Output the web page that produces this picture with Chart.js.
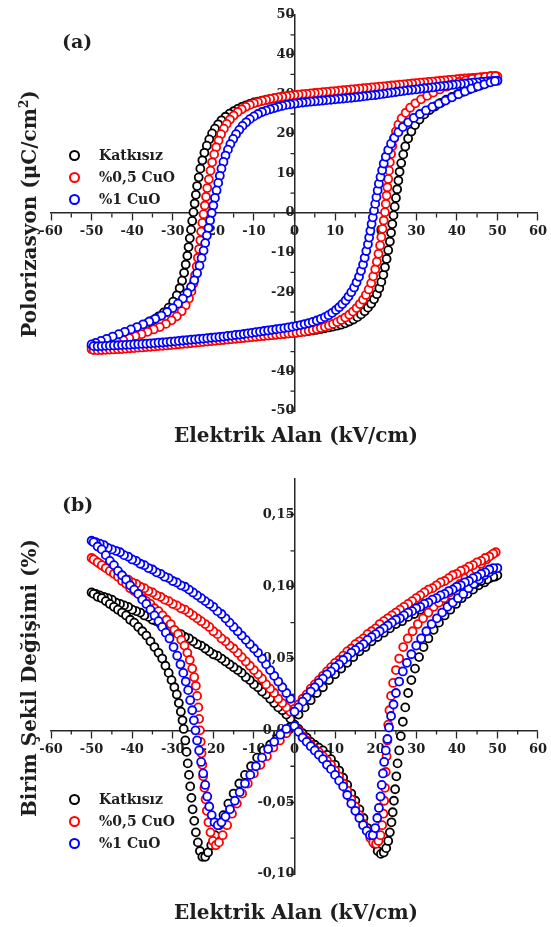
<!DOCTYPE html>
<html>
<head>
<meta charset="utf-8">
<script src="https://cdn.jsdelivr.net/npm/chart.js@4.4.1/dist/chart.umd.min.js"></script>
<style>
  body { margin: 0; background: #fff; }
  #page { position: relative; width: 551px; height: 927px; overflow: hidden; font-family: 'DejaVu Serif', serif; font-weight: bold; color: #1e1e1e; }
  .wrap { position: absolute; left: 0; width: 551px; }
  .ttl { position: absolute; white-space: nowrap; font-size: 20px; transform: translate(-50%, -50%); }
  .ytl { position: absolute; white-space: nowrap; font-size: 20px; transform: translate(-50%, -50%) rotate(-90deg); }
  .tag { position: absolute; font-size: 19px; }
  .leg { position: absolute; left: 69px; font-size: 14px; height: 20px; line-height: 20px; white-space: nowrap; }
  .leg span { display: inline-block; width: 7px; height: 7px; border: 2.2px solid; border-radius: 50%; vertical-align: middle; margin-right: 19px; position: relative; top: -1px; }
  sup { font-size: 12px; line-height: 0; }
</style>
</head>
<body>
<div id="page">
  <div class="wrap" style="top:0;height:463px"><canvas id="chartA" width="551" height="463"></canvas></div>
  <div class="wrap" style="top:463px;height:464px"><canvas id="chartB" width="551" height="464"></canvas></div>

  <div class="tag" style="left:62px;top:30px">(a)</div>
  <div class="ytl" style="left:29px;top:214px">Polorizasyon (μC/cm<sup>2</sup>)</div>
  <div class="ttl" style="left:296px;top:435px">Elektrik Alan (kV/cm)</div>
  <div class="leg" style="top:145px"><span style="border-color:#000"></span>Katkısız</div>
  <div class="leg" style="top:167px"><span style="border-color:#f00"></span>%0,5 CuO</div>
  <div class="leg" style="top:189px"><span style="border-color:#00f"></span>%1 CuO</div>

  <div class="tag" style="left:62px;top:493px">(b)</div>
  <div class="ytl" style="left:29px;top:678px">Birim Şekil Değişimi (%)</div>
  <div class="ttl" style="left:296px;top:912px">Elektrik Alan (kV/cm)</div>
  <div class="leg" style="top:789px"><span style="border-color:#000"></span>Katkısız</div>
  <div class="leg" style="top:811px"><span style="border-color:#f00"></span>%0,5 CuO</div>
  <div class="leg" style="top:833px"><span style="border-color:#00f"></span>%1 CuO</div>
</div>

<script>
const seriesNames = ['Katkısız', '%0,5 CuO', '%1 CuO'];

// (a) P-E loops: [E (kV/cm), P (µC/cm²)]
const peKatkisiz = [
  [50,33.6],[49,33.55],[48,33.5],[47,33.4],[46,33.35],[45,33.3],[44,33.2],[43,33.1],[42,33.05],[41,33],[40,32.9],[39,32.8],
  [38,32.7],[37,32.65],[36,32.6],[35,32.5],[34,32.4],[33,32.35],[32,32.3],[31,32.2],[30,32.1],[29,32],[28,31.9],[27,31.8],
  [26,31.7],[25,31.6],[24,31.5],[23,31.4],[22,31.3],[21,31.2],[20,31.1],[19,31],[18,30.9],[17,30.8],[16,30.7],[15,30.65],
  [14,30.6],[13,30.5],[12,30.4],[11,30.35],[10,30.3],[9,30.2],[8,30.1],[7,30.05],[6,30],[5,29.95],[4,29.9],[3,29.85],
  [2,29.8],[1,29.7],[0,29.6],[-1,29.5],[-2,29.4],[-3,29.25],[-4,29.1],[-5,28.95],[-6,28.8],[-7,28.6],[-8,28.4],[-9,28.15],
  [-10,27.9],[-11,27.55],[-12,27.2],[-13,26.8],[-14,26.3],[-15,25.7],[-16,25.1],[-17,24.3],[-18,23.4],[-18.8,22.4],
  [-19.6,21.3],[-20.3,20.1],[-21,18.6],[-21.6,17],[-22.2,15.2],[-22.7,13.3],[-23.2,11.2],[-23.6,9],[-24,6.8],[-24.3,4.6],
  [-24.6,2.4],[-24.9,0.2],[-25.2,-2],[-25.5,-4.2],[-25.8,-6.4],[-26.1,-8.6],[-26.4,-10.8],[-26.8,-13],[-27.2,-15.1],
  [-27.7,-17.1],[-28.3,-19],[-29,-20.8],[-29.9,-22.4],[-31,-23.9],[-32.2,-25.1],[-33.5,-26.1],[-34.9,-27.1],[-36.3,-27.9],
  [-37.8,-28.8],[-39.3,-29.5],[-40.8,-30.3],[-42.3,-31],[-43.8,-31.6],[-45.3,-32.2],[-46.8,-32.7],[-48.2,-33.2],
  [-49.3,-33.5],[-50,-33.7],
  [-49.5,-33.95],[-48.5,-34],[-47.5,-34],[-46.5,-33.95],[-45.5,-33.9],[-44.5,-33.85],[-43.5,-33.8],[-42.5,-33.75],
  [-41.5,-33.7],[-40.5,-33.65],[-39.5,-33.6],[-38.5,-33.55],[-37.5,-33.5],[-36.5,-33.45],[-35.5,-33.4],[-34.5,-33.35],
  [-33.5,-33.3],[-32.5,-33.25],[-31.5,-33.2],[-30.5,-33.1],[-29.5,-33.05],[-28.5,-33],[-27.5,-32.9],[-26.5,-32.8],
  [-25.5,-32.75],[-24.5,-32.65],[-23.5,-32.55],[-22.5,-32.45],[-21.5,-32.35],[-20.5,-32.25],[-19.5,-32.15],[-18.5,-32.05],
  [-17.5,-31.95],[-16.5,-31.85],[-15.5,-31.75],[-14.5,-31.65],[-13.5,-31.55],[-12.5,-31.45],[-11.5,-31.35],[-10.5,-31.25],
  [-9.5,-31.15],[-8.5,-31.05],[-7.5,-30.95],[-6.5,-30.85],[-5.5,-30.75],[-4.5,-30.65],[-3.5,-30.55],[-2.5,-30.45],
  [-1.5,-30.35],[-0.5,-30.25],[0.5,-30.15],[1.5,-30.05],[2.5,-29.95],[3.5,-29.8],[4.5,-29.65],[5.5,-29.5],[6.5,-29.3],
  [7.5,-29.1],[8.5,-28.9],[9.5,-28.7],[10.5,-28.45],[11.5,-28.2],[12.5,-27.85],[13.5,-27.4],[14.5,-26.9],[15.5,-26.3],
  [16.4,-25.6],[17.3,-24.8],[18.1,-23.9],[18.9,-22.9],[19.6,-21.8],[20.3,-20.5],[20.9,-19],[21.4,-17.4],[21.9,-15.6],
  [22.3,-13.7],[22.7,-11.6],[23.1,-9.4],[23.5,-7.2],[23.8,-5],[24.1,-2.8],[24.4,-0.6],[24.7,1.6],[25,3.8],[25.3,6],
  [25.6,8.2],[25.9,10.4],[26.3,12.6],[26.8,14.8],[27.3,16.8],[28,18.8],[28.8,20.6],[29.7,22.2],[30.8,23.6],[32,24.9],
  [33.3,26],[34.6,26.9],[36,27.8],[37.4,28.6],[38.8,29.3],[40.2,30],[41.6,30.6],[43,31.2],[44.4,31.7],[45.8,32.2],
  [47.1,32.7],[48.3,33.1],[49.3,33.4]
];
const peCuO05 = [
  [50,34.5],[49,34.5],[48,34.45],[47,34.4],[46,34.3],[45,34.2],[44,34.1],[43,34.05],[42,34],[41,33.9],[40,33.8],[39,33.7],
  [38,33.6],[37,33.5],[36,33.4],[35,33.3],[34,33.2],[33,33.1],[32,33],[31,32.9],[30,32.8],[29,32.7],[28,32.6],[27,32.5],
  [26,32.4],[25,32.3],[24,32.2],[23,32.1],[22,32],[21,31.9],[20,31.8],[19,31.7],[18,31.6],[17,31.5],[16,31.4],[15,31.3],
  [14,31.2],[13,31.1],[12,31],[11,30.9],[10,30.8],[9,30.7],[8,30.6],[7,30.5],[6,30.4],[5,30.3],[4,30.2],[3,30.1],[2,30],
  [1,29.9],[0,29.8],[-1,29.65],[-2,29.5],[-3,29.35],[-4,29.2],[-5,29],[-6,28.8],[-7,28.55],[-8,28.3],[-9,28],[-10,27.7],
  [-11,27.3],[-12,26.8],[-13,26.2],[-14,25.5],[-15,24.6],[-15.9,23.6],[-16.7,22.5],[-17.4,21.3],[-18.1,19.9],[-18.7,18.3],
  [-19.3,16.6],[-19.8,14.8],[-20.3,12.8],[-20.7,10.7],[-21.1,8.5],[-21.5,6.3],[-21.8,4.1],[-22.1,1.9],[-22.4,-0.3],
  [-22.7,-2.5],[-23,-4.7],[-23.2,-6.9],[-23.5,-9.1],[-23.8,-11.3],[-24.1,-13.5],[-24.5,-15.7],[-24.9,-17.8],[-25.4,-19.8],
  [-26,-21.6],[-26.8,-23.3],[-27.8,-24.8],[-29,-26.1],[-30.3,-27.1],[-31.7,-28],[-33.2,-28.8],[-34.7,-29.4],[-36.2,-30],
  [-37.7,-30.6],[-39.2,-31.1],[-40.7,-31.6],[-42.2,-32.1],[-43.7,-32.6],[-45.2,-33.1],[-46.7,-33.5],[-48.1,-33.9],
  [-49.2,-34.2],[-50,-34.4],
  [-49.5,-34.6],[-48.5,-34.65],[-47.5,-34.6],[-46.5,-34.55],[-45.5,-34.5],[-44.5,-34.45],[-43.5,-34.4],[-42.5,-34.35],
  [-41.5,-34.25],[-40.5,-34.15],[-39.5,-34.1],[-38.5,-34],[-37.5,-33.95],[-36.5,-33.85],[-35.5,-33.8],[-34.5,-33.7],
  [-33.5,-33.6],[-32.5,-33.55],[-31.5,-33.45],[-30.5,-33.35],[-29.5,-33.25],[-28.5,-33.15],[-27.5,-33.05],[-26.5,-32.95],
  [-25.5,-32.85],[-24.5,-32.75],[-23.5,-32.65],[-22.5,-32.55],[-21.5,-32.45],[-20.5,-32.35],[-19.5,-32.25],[-18.5,-32.15],
  [-17.5,-32.05],[-16.5,-31.95],[-15.5,-31.85],[-14.5,-31.75],[-13.5,-31.65],[-12.5,-31.55],[-11.5,-31.45],[-10.5,-31.35],
  [-9.5,-31.25],[-8.5,-31.15],[-7.5,-31.05],[-6.5,-30.95],[-5.5,-30.85],[-4.5,-30.75],[-3.5,-30.65],[-2.5,-30.55],
  [-1.5,-30.45],[-0.5,-30.35],[0.5,-30.25],[1.5,-30.1],[2.5,-29.95],[3.5,-29.75],[4.5,-29.55],[5.5,-29.3],[6.5,-29.05],
  [7.5,-28.75],[8.5,-28.4],[9.5,-28],[10.5,-27.55],[11.5,-27],[12.5,-26.4],[13.5,-25.7],[14.4,-24.9],[15.3,-24],[16.1,-23],
  [16.9,-21.9],[17.6,-20.7],[18.3,-19.3],[18.9,-17.7],[19.4,-16],[19.9,-14.2],[20.3,-12.3],[20.7,-10.3],[21.1,-8.2],
  [21.4,-6.1],[21.7,-4],[22,-1.9],[22.3,0.2],[22.5,2.3],[22.7,4.4],[22.9,6.5],[23.1,8.6],[23.3,10.7],[23.5,12.8],
  [23.8,14.9],[24.1,16.9],[24.5,18.8],[25,20.6],[25.6,22.3],[26.4,23.9],[27.4,25.3],[28.5,26.6],[29.8,27.7],[31.2,28.7],
  [32.7,29.6],[34.2,30.4],[35.8,31.2],[37.4,31.9],[39,32.5],[40.6,33.1],[42.2,33.5],[43.8,33.9],[45.4,34.2],[47,34.4],
  [48.4,34.6],[49.5,34.6]
];
const peCuO1 = [
  [50,33.4],[49,33.35],[48,33.3],[47,33.2],[46,33.1],[45,33],[44,32.9],[43,32.8],[42,32.7],[41,32.6],[40,32.5],[39,32.35],
  [38,32.2],[37,32.1],[36,32],[35,31.85],[34,31.7],[33,31.6],[32,31.5],[31,31.35],[30,31.2],[29,31.1],[28,31],[27,30.85],
  [26,30.7],[25,30.55],[24,30.4],[23,30.25],[22,30.1],[21,29.95],[20,29.8],[19,29.7],[18,29.6],[17,29.45],[16,29.3],
  [15,29.2],[14,29.1],[13,29],[12,28.9],[11,28.8],[10,28.7],[9,28.6],[8,28.5],[7,28.4],[6,28.3],[5,28.2],[4,28.1],[3,28],
  [2,27.9],[1,27.75],[0,27.6],[-1,27.45],[-2,27.3],[-3,27.05],[-4,26.8],[-5,26.5],[-6,26.2],[-7,25.85],[-8,25.5],[-9,25],
  [-10,24.4],[-11,23.7],[-11.9,22.9],[-12.8,22],[-13.6,21],[-14.4,19.9],[-15.1,18.7],[-15.8,17.4],[-16.4,16],[-17,14.5],
  [-17.5,12.9],[-18,11.2],[-18.4,9.4],[-18.8,7.6],[-19.2,5.7],[-19.6,3.8],[-20,1.9],[-20.4,0],[-20.8,-1.9],[-21.2,-3.8],
  [-21.6,-5.7],[-22,-7.6],[-22.4,-9.5],[-22.9,-11.4],[-23.4,-13.3],[-24,-15.2],[-24.7,-17],[-25.5,-18.7],[-26.4,-20.2],
  [-27.5,-21.6],[-28.7,-22.9],[-30,-24],[-31.4,-25],[-32.8,-25.9],[-34.3,-26.7],[-35.8,-27.4],[-37.3,-28.1],[-38.8,-28.8],
  [-40.3,-29.4],[-41.8,-30],[-43.3,-30.6],[-44.8,-31.2],[-46.3,-31.8],[-47.7,-32.3],[-49,-32.8],[-50,-33.2],
  [-49.5,-33.6],[-48.5,-33.65],[-47.5,-33.6],[-46.5,-33.55],[-45.5,-33.5],[-44.5,-33.45],[-43.5,-33.4],[-42.5,-33.35],
  [-41.5,-33.3],[-40.5,-33.25],[-39.5,-33.15],[-38.5,-33.1],[-37.5,-33.05],[-36.5,-33],[-35.5,-32.9],[-34.5,-32.85],
  [-33.5,-32.75],[-32.5,-32.7],[-31.5,-32.6],[-30.5,-32.5],[-29.5,-32.4],[-28.5,-32.3],[-27.5,-32.2],[-26.5,-32.1],
  [-25.5,-32],[-24.5,-31.9],[-23.5,-31.8],[-22.5,-31.7],[-21.5,-31.6],[-20.5,-31.5],[-19.5,-31.4],[-18.5,-31.3],
  [-17.5,-31.2],[-16.5,-31.05],[-15.5,-30.95],[-14.5,-30.8],[-13.5,-30.7],[-12.5,-30.55],[-11.5,-30.4],[-10.5,-30.25],
  [-9.5,-30.1],[-8.5,-29.95],[-7.5,-29.8],[-6.5,-29.65],[-5.5,-29.5],[-4.5,-29.35],[-3.5,-29.2],[-2.5,-29.05],[-1.5,-28.9],
  [-0.5,-28.7],[0.5,-28.5],[1.5,-28.3],[2.5,-28.05],[3.5,-27.8],[4.5,-27.5],[5.5,-27.15],[6.5,-26.75],[7.5,-26.3],
  [8.4,-25.8],[9.3,-25.2],[10.2,-24.5],[11,-23.8],[11.8,-23],[12.6,-22.1],[13.3,-21.1],[14,-20],[14.7,-18.8],[15.3,-17.5],
  [15.9,-16.1],[16.4,-14.6],[16.9,-13],[17.3,-11.3],[17.7,-9.6],[18.1,-7.9],[18.4,-6.2],[18.7,-4.5],[19,-2.8],[19.3,-1.1],
  [19.6,0.6],[19.9,2.3],[20.2,4],[20.5,5.7],[20.8,7.4],[21.2,9.1],[21.6,10.8],[22,12.5],[22.5,14.2],[23.1,15.9],
  [23.8,17.5],[24.6,19],[25.6,20.4],[26.7,21.7],[28,22.9],[29.4,24],[30.9,25],[32.4,25.9],[34,26.8],[35.6,27.6],
  [37.2,28.4],[38.8,29.2],[40.4,30],[42,30.7],[43.6,31.4],[45.2,32],[46.8,32.5],[48.3,33],[49.4,33.3]
];

// (b) strain butterfly loops: [E (kV/cm), strain (%)]
const sKatkisiz = [
  [0,0.004],[1,0.001],[2,-0.002],[3,-0.005],[4,-0.008],[5,-0.010],[6,-0.012],[7,-0.014],[8,-0.017],[9,-0.020],[10,-0.024],
  [11,-0.028],[12,-0.033],[13,-0.038],[14,-0.044],[15,-0.049],[16,-0.055],[17,-0.061],[18,-0.068],[18.9,-0.074],
  [19.7,-0.079],[20.5,-0.084],[21.3,-0.086],[22,-0.085],[22.6,-0.082],[23.1,-0.077],[23.5,-0.071],[23.9,-0.064],
  [24.2,-0.057],[24.5,-0.049],[24.8,-0.041],[25.1,-0.032],[25.4,-0.023],[25.8,-0.014],[26.2,-0.004],[26.7,0.006],
  [27.3,0.016],[28,0.026],[28.8,0.035],[29.7,0.043],[30.7,0.051],[31.8,0.058],[33,0.064],[34.3,0.070],[35.6,0.075],
  [37,0.080],[38.4,0.084],[39.8,0.088],[41.2,0.092],[42.6,0.095],[44,0.098],[45.4,0.101],[46.8,0.103],[48.2,0.106],
  [49.4,0.107],[50,0.108],
  [49,0.107],[47.5,0.105],[46,0.104],[44.5,0.102],[43,0.100],[41.5,0.098],[40,0.096],[38.5,0.094],[37,0.092],[35.5,0.090],
  [34,0.088],[32.5,0.086],[31,0.084],[29.5,0.081],[28,0.079],[26.5,0.076],[25,0.074],[23.5,0.071],[22,0.068],[20.5,0.065],
  [19,0.062],[17.5,0.058],[16,0.055],[14.5,0.051],[13,0.047],[11.5,0.043],[10,0.039],[8.5,0.035],[7,0.030],[5.5,0.026],
  [4,0.021],[2.5,0.016],[1,0.011],
  [-1,0.008],[-2,0.011],[-3,0.014],[-4,0.016],[-5,0.019],[-6,0.022],[-7,0.025],[-8,0.027],[-9,0.030],[-10,0.032],
  [-11,0.035],[-12,0.037],[-13,0.040],[-14,0.042],[-15,0.044],[-16,0.046],[-17,0.048],[-18,0.050],[-19,0.052],[-20,0.053],
  [-21,0.055],[-22,0.057],[-23,0.059],[-24,0.060],[-25,0.062],[-26,0.064],[-27,0.065],[-28,0.067],[-29,0.068],[-30,0.070],
  [-31,0.071],[-32,0.073],[-33,0.074],[-34,0.076],[-35,0.077],[-36,0.079],[-37,0.080],[-38,0.082],[-39,0.083],[-40,0.084],
  [-41,0.086],[-42,0.087],[-43,0.088],[-44,0.089],[-45,0.091],[-46,0.092],[-47,0.093],[-48,0.094],[-49,0.095],[-50,0.096],
  [-49.5,0.095],[-48.5,0.093],[-47.5,0.092],[-46.5,0.090],[-45.5,0.088],[-44.5,0.086],[-43.5,0.084],[-42.5,0.082],
  [-41.5,0.080],[-40.5,0.077],[-39.5,0.075],[-38.5,0.072],[-37.5,0.069],[-36.5,0.066],[-35.5,0.062],[-34.5,0.058],
  [-33.5,0.054],[-32.6,0.050],[-31.8,0.045],[-31,0.040],[-30.3,0.035],[-29.6,0.030],[-29,0.025],[-28.5,0.019],
  [-28,0.013],[-27.6,0.007],[-27.3,0.001],[-26.9,-0.007],[-26.6,-0.015],[-26.3,-0.023],[-26,-0.031],[-25.7,-0.039],
  [-25.4,-0.047],[-25.1,-0.055],[-24.7,-0.063],[-24.3,-0.071],[-23.8,-0.078],[-23.3,-0.084],[-22.7,-0.088],[-22,-0.088],
  [-21.3,-0.085],[-20.5,-0.080],[-19.6,-0.073],[-18.6,-0.066],[-17.5,-0.059],[-16.3,-0.051],[-15,-0.044],[-13.6,-0.037],
  [-12.2,-0.031],[-10.7,-0.025],[-9.2,-0.019],[-7.6,-0.014],[-6,-0.010],[-4.4,-0.006],[-2.8,-0.002],[-1.2,0.002]
];
const sCuO05 = [
  [0,0.003],[1,0],[2,-0.004],[3,-0.007],[4,-0.010],[5,-0.013],[6,-0.015],[7,-0.018],[8,-0.021],[9,-0.024],[10,-0.028],
  [11,-0.032],[12,-0.037],[13,-0.042],[14,-0.048],[15,-0.053],[16,-0.059],[17,-0.065],[17.9,-0.070],[18.7,-0.075],
  [19.4,-0.078],[20.1,-0.079],[20.7,-0.077],[21.2,-0.073],[21.6,-0.066],[21.9,-0.058],[22.1,-0.049],[22.3,-0.040],
  [22.5,-0.029],[22.7,-0.018],[22.9,-0.007],[23.1,0.004],[23.4,0.014],[23.8,0.024],[24.3,0.033],[25,0.042],[25.8,0.050],
  [26.8,0.058],[27.9,0.064],[29.1,0.069],[30.4,0.074],[31.7,0.078],[33,0.082],[34.3,0.086],[35.6,0.089],[36.9,0.092],
  [38.2,0.096],[39.5,0.099],[40.8,0.102],[42.1,0.106],[43.4,0.109],[44.7,0.112],[46,0.116],[47.3,0.119],[48.5,0.122],
  [49.6,0.124],
  [49,0.123],[48,0.121],[47,0.120],[46,0.118],[45,0.117],[44,0.115],[43,0.114],[42,0.112],[41,0.111],[40,0.109],[39,0.108],
  [38,0.106],[37,0.104],[36,0.103],[35,0.101],[34,0.099],[33,0.098],[32,0.096],[31,0.094],[30,0.092],[29,0.090],[28,0.088],
  [27,0.086],[26,0.084],[25,0.082],[24,0.080],[23,0.078],[22,0.076],[21,0.074],[20,0.071],[19,0.069],[18,0.067],[17,0.064],
  [16,0.062],[15,0.060],[14,0.057],[13,0.055],[12,0.052],[11,0.049],[10,0.047],[9,0.044],[8,0.041],[7,0.038],[6,0.035],
  [5,0.032],[4,0.029],[3,0.025],[2,0.022],[1,0.018],[0,0.015],
  [-1,0.013],[-2,0.016],[-3,0.019],[-4,0.022],[-5,0.026],[-6,0.029],[-7,0.032],[-8,0.036],[-9,0.039],[-10,0.042],
  [-11,0.045],[-12,0.048],[-13,0.051],[-14,0.054],[-15,0.057],[-16,0.059],[-17,0.062],[-18,0.064],[-19,0.067],[-20,0.069],
  [-21,0.072],[-22,0.074],[-23,0.076],[-24,0.078],[-25,0.080],[-26,0.082],[-27,0.084],[-28,0.085],[-29,0.087],[-30,0.088],
  [-31,0.090],[-32,0.091],[-33,0.093],[-34,0.094],[-35,0.096],[-36,0.097],[-37,0.099],[-38,0.100],[-39,0.102],[-40,0.103],
  [-41,0.105],[-42,0.106],[-43,0.108],[-44,0.109],[-45,0.111],[-46,0.113],[-47,0.114],[-48,0.116],[-49,0.118],[-50,0.120],
  [-49.5,0.119],[-48.5,0.117],[-47.5,0.115],[-46.5,0.113],[-45.5,0.111],[-44.5,0.109],[-43.5,0.107],[-42.5,0.104],
  [-41.5,0.102],[-40.5,0.099],[-39.5,0.097],[-38.5,0.095],[-37.5,0.092],[-36.5,0.090],[-35.5,0.088],[-34.5,0.085],
  [-33.5,0.083],[-32.5,0.080],[-31.5,0.077],[-30.5,0.074],[-29.6,0.070],[-28.7,0.067],[-27.9,0.063],[-27.1,0.059],
  [-26.4,0.054],[-25.8,0.049],[-25.2,0.043],[-24.7,0.037],[-24.3,0.031],[-24,0.024],[-23.7,0.016],[-23.5,0.008],
  [-23.3,0.000],[-23.1,-0.008],[-22.9,-0.016],[-22.7,-0.024],[-22.5,-0.032],[-22.2,-0.040],[-21.9,-0.048],[-21.6,-0.056],
  [-21.2,-0.064],[-20.7,-0.071],[-20.1,-0.077],[-19.4,-0.080],[-18.6,-0.078],[-17.7,-0.073],[-16.6,-0.066],[-15.4,-0.058],
  [-14.2,-0.051],[-12.9,-0.044],[-11.5,-0.037],[-10,-0.030],[-8.4,-0.024],[-6.8,-0.018],[-5.2,-0.012],[-3.6,-0.007],
  [-2,-0.002]
];
const sCuO1 = [
  [0,0.003],[1,-0.001],[2,-0.005],[3,-0.008],[4,-0.011],[5,-0.014],[6,-0.017],[7,-0.020],[8,-0.024],[9,-0.027],[10,-0.031],
  [11,-0.035],[12,-0.039],[13,-0.045],[14,-0.051],[15,-0.056],[16,-0.061],[16.9,-0.066],[17.8,-0.070],[18.6,-0.073],
  [19.3,-0.073],[19.9,-0.068],[20.4,-0.061],[20.8,-0.054],[21.2,-0.046],[21.5,-0.038],[21.8,-0.030],[22.1,-0.022],
  [22.5,-0.014],[22.9,-0.006],[23.3,0.002],[23.8,0.010],[24.4,0.018],[25,0.026],[25.8,0.034],[26.7,0.041],[27.7,0.047],
  [28.8,0.053],[30,0.059],[31.2,0.064],[32.5,0.069],[33.8,0.074],[35.1,0.078],[36.4,0.082],[37.7,0.086],[39,0.089],
  [40.3,0.092],[41.6,0.095],[42.9,0.099],[44.2,0.102],[45.5,0.105],[46.8,0.108],[48,0.110],[49.1,0.112],[50,0.113],
  [49,0.113],[48,0.112],[47,0.110],[46,0.109],[45,0.107],[44,0.106],[43,0.104],[42,0.103],[41,0.101],[40,0.100],[39,0.098],
  [38,0.097],[37,0.095],[36,0.094],[35,0.092],[34,0.091],[33,0.089],[32,0.088],[31,0.086],[30,0.085],[29,0.083],[28,0.082],
  [27,0.080],[26,0.078],[25,0.077],[24,0.075],[23,0.073],[22,0.071],[21,0.069],[20,0.067],[19,0.065],[18,0.063],[17,0.060],
  [16,0.058],[15,0.056],[14,0.054],[13,0.051],[12,0.049],[11,0.046],[10,0.044],[9,0.041],[8,0.039],[7,0.036],[6,0.033],
  [5,0.030],[4,0.027],[3,0.023],[2,0.020],[1,0.016],[0,0.013],
  [-1,0.022],[-2,0.026],[-3,0.030],[-4,0.034],[-5,0.038],[-6,0.042],[-7,0.046],[-8,0.050],[-9,0.054],[-10,0.057],
  [-11,0.060],[-12,0.063],[-13,0.066],[-14,0.069],[-15,0.072],[-16,0.075],[-17,0.078],[-18,0.081],[-19,0.083],[-20,0.086],
  [-21,0.088],[-22,0.090],[-23,0.092],[-24,0.094],[-25,0.096],[-26,0.098],[-27,0.100],[-28,0.101],[-29,0.103],[-30,0.104],
  [-31,0.106],[-32,0.107],[-33,0.109],[-34,0.110],[-35,0.112],[-36,0.113],[-37,0.115],[-38,0.116],[-39,0.118],[-40,0.119],
  [-41,0.121],[-42,0.122],[-43,0.124],[-44,0.125],[-45,0.126],[-46,0.127],[-47,0.129],[-48,0.130],[-49,0.131],[-50,0.132],
  [-49.5,0.131],[-48.5,0.128],[-47.5,0.126],[-46.5,0.122],[-45.5,0.118],[-44.5,0.115],[-43.5,0.111],[-42.5,0.108],
  [-41.5,0.105],[-40.5,0.101],[-39.5,0.098],[-38.5,0.095],[-37.5,0.091],[-36.5,0.088],[-35.5,0.084],[-34.5,0.080],
  [-33.5,0.076],[-32.6,0.072],[-31.7,0.068],[-30.8,0.064],[-29.8,0.058],[-28.9,0.052],[-28.1,0.046],[-27.4,0.040],
  [-26.8,0.034],[-26.2,0.028],[-25.7,0.021],[-25.2,0.014],[-24.8,0.007],[-24.4,0.000],[-24,-0.007],[-23.5,-0.014],
  [-23,-0.022],[-22.5,-0.030],[-22,-0.038],[-21.5,-0.046],[-21,-0.053],[-20.4,-0.059],[-19.7,-0.064],[-18.9,-0.066],
  [-18,-0.064],[-17,-0.060],[-15.9,-0.055],[-14.7,-0.049],[-13.5,-0.043],[-12.2,-0.037],[-10.9,-0.031],[-9.5,-0.025],
  [-8,-0.019],[-6.5,-0.013],[-5,-0.008],[-3.5,-0.003],[-2,0.001]
];

const colors = ['#000000', '#ff0000', '#0000ff'];
const axisColor = '#262626';

Chart.defaults.font.family = "'DejaVu Serif', serif";
Chart.defaults.font.weight = 'bold';
Chart.defaults.color = '#1e1e1e';

// short ticks halfway between the labelled ones
const minorTicks = {
  id: 'minorTicks',
  beforeDatasetsDraw(chart) {
    const ctx = chart.ctx;
    const xs = chart.scales.x, ys = chart.scales.y;
    const x0 = Math.round(xs.getPixelForValue(0)) + 0.5;
    const y0 = Math.round(ys.getPixelForValue(0)) + 0.5;
    ctx.save();
    ctx.strokeStyle = axisColor;
    ctx.lineWidth = 1.3;
    ctx.beginPath();
    for (let i = 0; i < xs.ticks.length - 1; i++) {
      const px = xs.getPixelForValue((xs.ticks[i].value + xs.ticks[i + 1].value) / 2);
      ctx.moveTo(px, y0);
      ctx.lineTo(px, y0 + 4);
    }
    for (let i = 0; i < ys.ticks.length - 1; i++) {
      const py = ys.getPixelForValue((ys.ticks[i].value + ys.ticks[i + 1].value) / 2);
      ctx.moveTo(x0, py);
      ctx.lineTo(x0 - 4, py);
    }
    ctx.stroke();
    ctx.restore();
  }
};

function makeDatasets(list) {
  return list.map((arr, i) => ({
    label: seriesNames[i],
    data: arr.map(([x, y]) => ({ x, y })),
    borderColor: colors[i],
    backgroundColor: '#ffffff',
    pointRadius: 4,
    pointBorderWidth: 1.8,
    showLine: false,
    order: 3 - i,
  }));
}

function axis(min, max, step, pos, fmt) {
  return {
    type: 'linear',
    min: min,
    max: max,
    position: pos,
    grid: { drawOnChartArea: false, drawTicks: true, tickLength: 7, tickColor: axisColor, tickWidth: 1.3 },
    border: { display: true, color: axisColor, width: 1.5 },
    ticks: { stepSize: step, includeBounds: false, padding: 4, font: { size: 13, weight: 'bold' }, color: '#1e1e1e', callback: fmt },
  };
}

function makeChart(id, list, yMin, yMax, yStep, yFmt, pad) {
  return new Chart(document.getElementById(id), {
    type: 'scatter',
    data: { datasets: makeDatasets(list) },
    options: {
      responsive: false,
      animation: false,
      devicePixelRatio: 1,
      layout: { padding: pad },
      plugins: { legend: { display: false }, tooltip: { enabled: false }, title: { display: false } },
      scales: {
        x: axis(-60, 60, 10, { y: 0 }, v => v),
        y: axis(yMin, yMax, yStep, { x: 0 }, yFmt),
      },
    },
    plugins: [minorTicks],
  });
}

makeChart('chartA', [peKatkisiz, peCuO05, peCuO1], -50, 50, 10, v => v,
  { left: 51, right: 9, top: 15, bottom: 52 });
makeChart('chartB', [sKatkisiz, sCuO05, sCuO1], -0.10, 0.175, 0.05, v => v.toFixed(2).replace('.', ','),
  { left: 51, right: 9, top: 16, bottom: 53 });
</script>
</body>
</html>
